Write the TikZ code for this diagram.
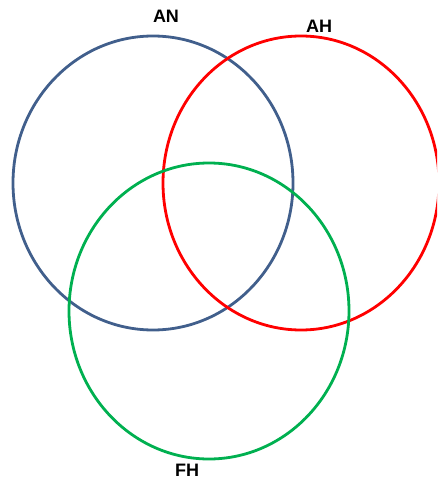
\documentclass[tikz,border=0pt]{standalone}
\usepackage{fontspec}
\setmainfont{Liberation Sans}
\begin{document}
\begin{tikzpicture}[x=1pt,y=-1pt,
  ring/.style={line width=2.8pt},
  lbl/.style={font=\fontsize{18}{20}\selectfont\bfseries, inner sep=0pt}]
\definecolor{anblue}{RGB}{65,95,140}
\definecolor{ahred}{RGB}{255,0,0}
\definecolor{fhgreen}{RGB}{0,176,80}
\useasboundingbox (0,0) rectangle (437,481);
\clip (0,0) rectangle (437,481);
\draw[ring, draw=anblue] (153,183) ellipse [x radius=140, y radius=147];
\draw[ring, draw=ahred] (301,183) ellipse [x radius=138, y radius=147];
\draw[ring, draw=fhgreen] (209,311) ellipse [x radius=140, y radius=148];
\node[lbl] (tan) at (166,16) {AN};
\node[lbl] (tah) at (319,26) {AH};
\node[lbl] (tfh) at (187,470) {FH};
\end{tikzpicture}
\end{document}
